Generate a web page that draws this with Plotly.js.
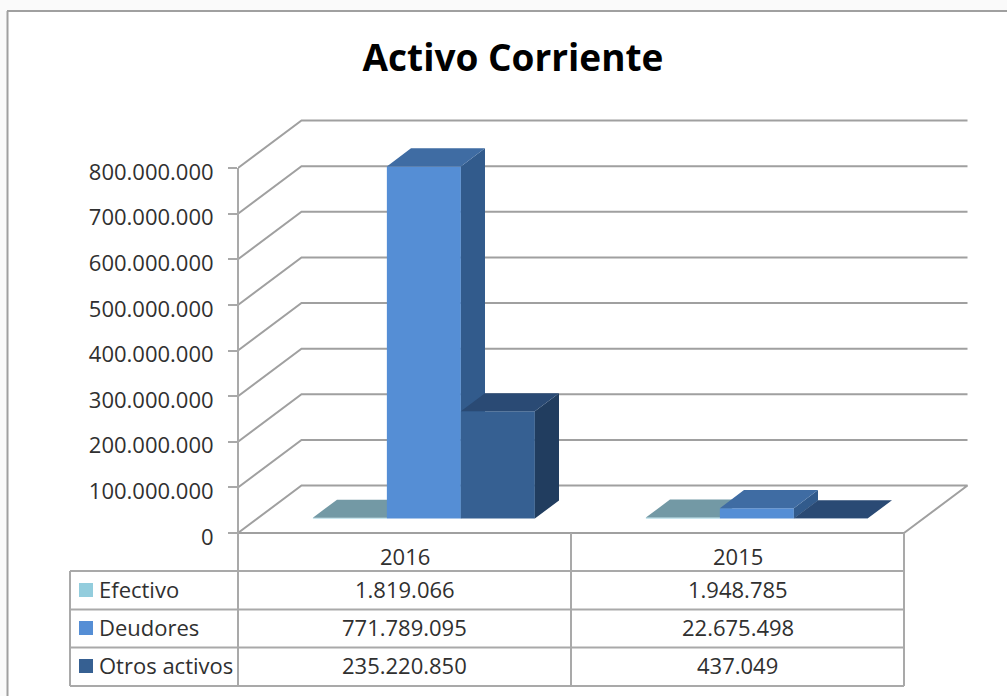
<!DOCTYPE html>
<html>
<head>
<meta charset="utf-8">
<script src="https://cdn.plot.ly/plotly-3.0.1.min.js"></script>
<style>html,body{margin:0;padding:0;background:#fff}#chart{width:1007px;height:696px}</style>
</head>
<body>
<div id="chart"></div>
<script>
// ---- data ----
var categories = ['2016', '2015'];
var seriesNames = ['Efectivo', 'Deudores', 'Otros activos'];
var efectivo = [1819066, 1948785];
var deudores = [771789095, 22675498];
var otrosActivos = [235220850, 437049];
var yTicks = [0, 100000000, 200000000, 300000000, 400000000, 500000000, 600000000, 700000000, 800000000];

// ---- styling ----
var frontColors = ['#93CDDD', '#558ED5', '#366092'];
var topColors = ['#7399A5', '#3F6CA3', '#2A4A74'];
var sideColors = ['#6B96A3', '#325B8C', '#213D5F'];
var gridColor = '#A0A0A0';
var tableColor = '#A9A9A9';
var textColor = '#303030';
var fontFamily = '"Open Sans", sans-serif';

// ---- geometry: oblique projection in axis units ----
var W = 1007, H = 696;
var plotL = 238, plotR = 975, plotT = 114, plotB = 540;
var zeroPx = 533;
var pxPerCat = 333, pxPerVal = 365 / 800000000;
var xMax = (plotR - plotL) / pxPerCat;
var yMin = -(plotB - zeroPx) / pxPerVal, yMax = (zeroPx - plotT) / pxPerVal;
var dX = 63.5 / pxPerCat, dY = 47.5 / pxPerVal;   // full depth of the floor
var depthFront = 0.305, depthBack = 0.685;
var barW = 2 / 9, groupStart = 1 / 6;

function px(x) { return (x - plotL) / (plotR - plotL); }
function py(y) { return (plotB - y) / (plotB - plotT); }
function fmt(n) { return String(n).replace(/\B(?=(\d{3})+$)/g, '.'); }

var traces = [];

// wall gridlines and floor
yTicks.forEach(function (v) {
  var isFloor = v === 0;
  traces.push({
    type: 'scatter', mode: 'lines', hoverinfo: 'skip', showlegend: false,
    x: isFloor ? [2, 2 + dX, dX, 0, 2] : [0, dX, 2 + dX],
    y: isFloor ? [0, dY, dY, 0, 0] : [v, v + dY, v + dY],
    line: { color: gridColor, width: 2 }
  });
});

// bars: one overlay subplot per series, so the faces stack as in the picture
[efectivo, deudores, otrosActivos].forEach(function (vals, s) {
  var ax = s === 0 ? '' : String(s + 1);
  var xa = 'x' + ax, ya = 'y' + ax;
  var shiftF = depthFront * dX, shiftB = depthBack * dX;
  var baseF = depthFront * dY, baseB = depthBack * dY;
  var tx = [], ty = [], sx = [], sy = [], fx = [];
  vals.forEach(function (v, c) {
    var x0 = c + groupStart + s * barW, x1 = x0 + barW;
    fx.push(x0 + shiftF + barW / 2);
    tx.push(x0 + shiftF, x1 + shiftF, x1 + shiftB, x0 + shiftB, x0 + shiftF, null);
    ty.push(baseF + v, baseF + v, baseB + v, baseB + v, baseF + v, null);
    sx.push(x1 + shiftF, x1 + shiftB, x1 + shiftB, x1 + shiftF, x1 + shiftF, null);
    sy.push(baseF, baseB, baseB + v, baseF + v, baseF, null);
  });
  traces.push({
    type: 'bar', name: seriesNames[s], x: fx, y: vals,
    base: vals.map(function () { return baseF; }), width: barW,
    marker: { color: frontColors[s], line: { width: 0 } },
    xaxis: xa, yaxis: ya, hoverinfo: 'skip', showlegend: false
  });
  traces.push({
    type: 'scatter', mode: 'lines', x: sx, y: sy, fill: 'toself', fillcolor: sideColors[s],
    line: { width: 0 }, xaxis: xa, yaxis: ya, hoverinfo: 'skip', showlegend: false
  });
  traces.push({
    type: 'scatter', mode: 'lines', x: tx, y: ty, fill: 'toself', fillcolor: topColors[s],
    line: { width: 0 }, xaxis: xa, yaxis: ya, hoverinfo: 'skip', showlegend: false
  });
});

// ---- frame and data table ----
var shapes = [];
function hLine(x0, x1, y, c) { shapes.push({ type: 'line', xref: 'paper', yref: 'paper', x0: px(x0), x1: px(x1), y0: py(y), y1: py(y), line: { color: c, width: 2 } }); }
function vLine(x, y0, y1, c) { shapes.push({ type: 'line', xref: 'paper', yref: 'paper', x0: px(x), x1: px(x), y0: py(y0), y1: py(y1), line: { color: c, width: 2 } }); }

// page strip and outer chart frame
shapes.push({ type: 'rect', xref: 'paper', yref: 'paper', layer: 'below', x0: px(0), x1: px(W), y0: py(0), y1: py(11), fillcolor: '#FAFAFA', line: { width: 0 } });
shapes.push({ type: 'rect', xref: 'paper', yref: 'paper', layer: 'below', x0: px(0), x1: px(7), y0: py(0), y1: py(H), fillcolor: '#FAFAFA', line: { width: 0 } });
hLine(7, W, 11, '#A0A0A0');
vLine(7.5, 11, H, '#A0A0A0');

// table lines
hLine(70, 904, 571, tableColor);
hLine(70, 904, 609.5, tableColor);
hLine(70, 904, 647.5, tableColor);
hLine(70, 904, 686, tableColor);
vLine(70, 571, 686, tableColor);
vLine(238, 168, 686, tableColor);
vLine(571, 533, 686, tableColor);
vLine(904, 533, 686, tableColor);

var rowCenters = [589, 627, 665];
var annotations = [];
function cell(text, xUnit, y) {
  annotations.push({ text: text, xref: 'x', yref: 'paper', x: xUnit, y: py(y), showarrow: false, xanchor: 'center', yanchor: 'middle',
    font: { family: fontFamily, size: 22, color: textColor } });
}
categories.forEach(function (c, i) { cell(c, i + 0.5, 556); });
[efectivo, deudores, otrosActivos].forEach(function (vals, s) {
  vals.forEach(function (v, c) { cell(fmt(v), c + 0.5, rowCenters[s]); });
  shapes.push({ type: 'rect', xref: 'paper', yref: 'paper', x0: px(79), x1: px(93), y0: py(rowCenters[s] - 6), y1: py(rowCenters[s] + 8), fillcolor: frontColors[s], line: { width: 0 } });
  annotations.push({ text: seriesNames[s], xref: 'paper', yref: 'paper', x: px(97), y: py(rowCenters[s]), showarrow: false, xanchor: 'left', yanchor: 'middle',
    font: { family: fontFamily, size: 22, color: textColor } });
});

var layout = {
  width: W, height: H,
  margin: { l: plotL, r: W - plotR, t: plotT, b: H - plotB, pad: 0 },
  paper_bgcolor: '#FFFFFF', plot_bgcolor: 'rgba(0,0,0,0)',
  showlegend: false, barmode: 'overlay',
  title: { text: '<b>Activo Corriente</b>', x: 513 / W, xanchor: 'center', xref: 'container', y: 1 - 58 / H, yanchor: 'middle', yref: 'container',
    font: { family: fontFamily, size: 37, color: '#000000' } },
  xaxis: { range: [0, xMax], visible: false, fixedrange: true },
  yaxis: { range: [yMin, yMax], fixedrange: true, showgrid: false, zeroline: false, showline: false,
    tickmode: 'array', tickvals: yTicks, ticktext: yTicks.map(fmt), ticks: 'outside', ticklen: 9, tickwidth: 2, tickcolor: tableColor,
    ticklabelstandoff: 10, ticklabelshift: 4, tickfont: { family: fontFamily, size: 22, color: textColor } },
  xaxis2: { range: [0, xMax], visible: false, fixedrange: true, overlaying: 'x', anchor: 'y2' },
  yaxis2: { range: [yMin, yMax], visible: false, fixedrange: true, overlaying: 'y', anchor: 'x2' },
  xaxis3: { range: [0, xMax], visible: false, fixedrange: true, overlaying: 'x', anchor: 'y3' },
  yaxis3: { range: [yMin, yMax], visible: false, fixedrange: true, overlaying: 'y', anchor: 'x3' },
  shapes: shapes,
  annotations: annotations
};

Plotly.newPlot('chart', traces, layout, { displayModeBar: false, staticPlot: true });
</script>
</body>
</html>
